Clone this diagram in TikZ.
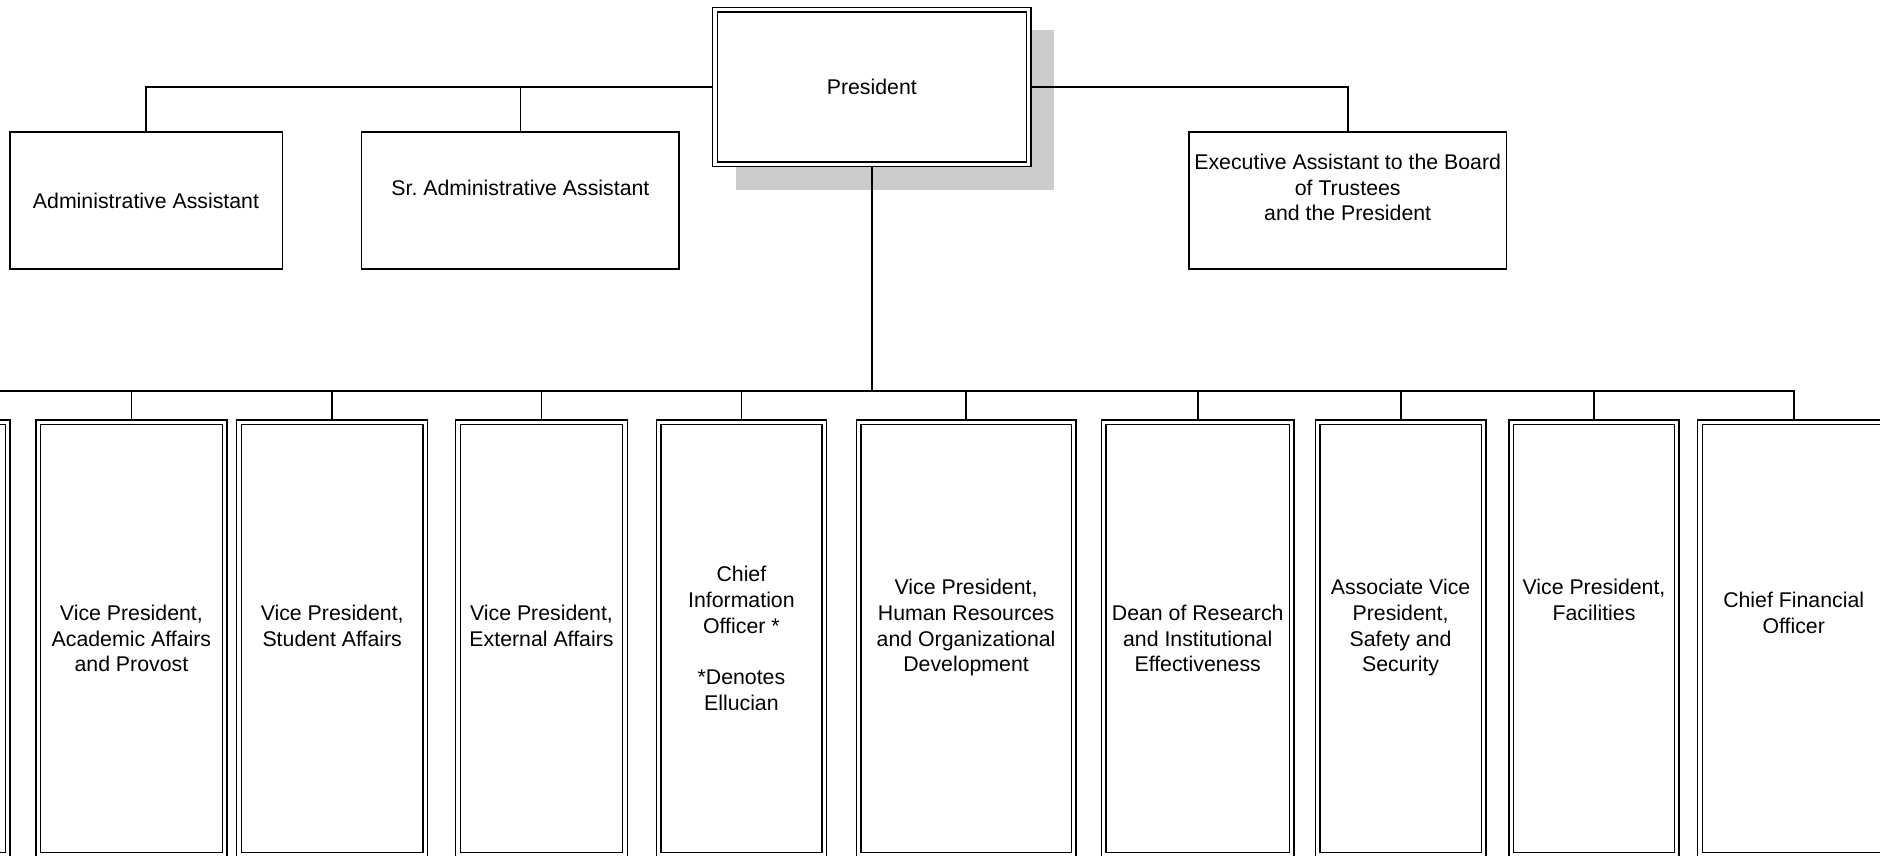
\documentclass[tikz,border=0pt]{standalone}
\usepackage{fontspec}
\setmainfont{Liberation Sans}
\usetikzlibrary{backgrounds}
\definecolor{shadowgray}{gray}{0.8}
\begin{document}
\begin{tikzpicture}[x=1pt,y=-1pt,font=\fontsize{21.3}{25.7}\selectfont,
  conn/.style={line width=1.8pt},
  topbox/.style={draw,line width=1.8pt,minimum height=136.7pt,align=center,inner sep=2pt},
  vpbox/.style={draw,double,line width=1.4pt,double distance=3.2pt,outer sep=2.3pt,fill=white,minimum height=432.4pt,align=center,inner sep=2pt}]
\useasboundingbox (0,0) rectangle (1880,856);
\clip (0,0) rectangle (1880,856);
% top row
\node[vpbox,minimum width=313.7pt,minimum height=154.8pt] (pres) at (871.8,87) {President};
\begin{scope}[on background layer]
\fill[shadowgray] ([shift={(23,23)}]pres.north west) rectangle ([shift={(23,23)}]pres.south east);
\end{scope}
\node[topbox,minimum width=272.8pt] (adm) at (146,200.4) {Administrative Assistant};
\node[topbox,minimum width=317.8pt] (sradm) at (520.4,200.4) {Sr.\ Administrative Assistant\\~};
\node[topbox,minimum width=317.7pt] (exec) at (1347.7,200.4) {Executive Assistant to the Board\\of Trustees\\and the President\\~};
% vice presidents
\node[vpbox,minimum width=187.5pt] (lft) at (-86,638.4) {};
\node[vpbox,minimum width=186.2pt] (acad) at (131.4,638.4) {Vice President,\\Academic Affairs\\and Provost};
\node[vpbox,minimum width=186.5pt] (stud) at (332.2,638.4) {Vice President,\\Student Affairs\\~};
\node[vpbox,minimum width=166.9pt] (ext) at (541.5,638.4) {Vice President,\\External Affairs\\~};
\node[vpbox,minimum width=165.7pt] (cio) at (741.4,638.4) {Chief\\Information\\Officer *\\~\\*Denotes\\Ellucian};
\node[vpbox,minimum width=215.1pt] (hr) at (966.1,638.4) {Vice President,\\Human Resources\\and Organizational\\Development\\~};
\node[vpbox,minimum width=187.7pt] (dean) at (1197.7,638.4) {Dean of Research\\and Institutional\\Effectiveness};
\node[vpbox,minimum width=166.2pt] (asvp) at (1400.6,638.4) {Associate Vice\\President,\\Safety and\\Security\\~};
\node[vpbox,minimum width=165.6pt] (fac) at (1594,638.4) {Vice President,\\Facilities\\~\\~\\~};
\node[vpbox,minimum width=187.5pt] (cfo) at (1793.7,638.4) {Chief Financial\\Officer\\~\\~};
% lines
\coordinate (bus) at (pres.south |- 0,391.3);
\draw[conn] (pres.west) -| (adm.north);
\draw[conn] (pres.west) -| (sradm.north);
\draw[conn] (pres.east) -| (exec.north);
\draw[conn] (pres.south) -- (bus);
\foreach \n in {lft,acad,stud,ext,cio,hr,dean,asvp,fac,cfo}
  \draw[conn] (bus) -| (\n.north);
\end{tikzpicture}
\end{document}
